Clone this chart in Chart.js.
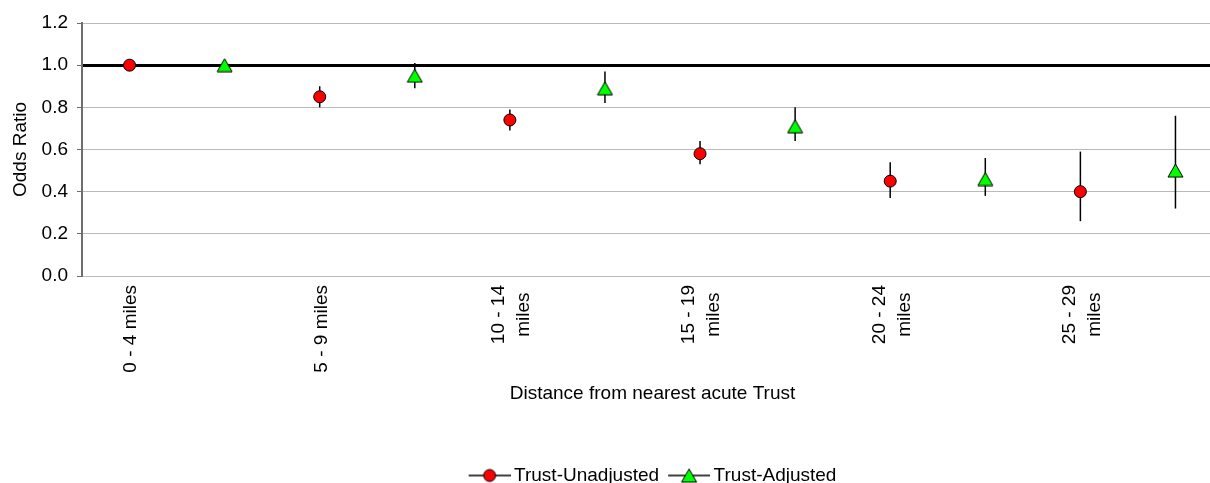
<!DOCTYPE html>
<html>
<head>
<meta charset="utf-8">
<script src="https://cdn.jsdelivr.net/npm/chart.js@4.4.1/dist/chart.umd.min.js"></script>
<style>
  html, body { margin: 0; padding: 0; background: #fff; overflow: hidden; }
  #wrap { width: 1232px; height: 495px; }
</style>
</head>
<body>
<div id="wrap"><canvas id="chart" width="1232" height="495"></canvas></div>
<script>
// Distance bands from the nearest acute Trust (multi-line tick labels)
const distanceBands = [
  ['0 - 4 miles'],
  ['5 - 9 miles'],
  ['10 - 14', 'miles'],
  ['15 - 19', 'miles'],
  ['20 - 24', 'miles'],
  ['25 - 29', 'miles']
];

// Odds ratios and 95% confidence limits, reference band = 0 - 4 miles
const unadjustedOR    = [1.00, 0.85, 0.74, 0.58, 0.45, 0.40];
const unadjustedLower = [null, 0.80, 0.69, 0.53, 0.37, 0.26];
const unadjustedUpper = [null, 0.90, 0.79, 0.64, 0.54, 0.59];

const adjustedOR      = [1.00, 0.95, 0.89, 0.71, 0.46, 0.50];
const adjustedLower   = [null, 0.89, 0.82, 0.64, 0.38, 0.32];
const adjustedUpper   = [null, 1.01, 0.97, 0.80, 0.56, 0.76];

const yTickValues = [0.0, 0.2, 0.4, 0.6, 0.8, 1.0, 1.2];
const referenceOR = 1.0;

const FONT = '"Liberation Sans", Arial, Helvetica, sans-serif';
const FONT_SIZE = 19;

// Each band gets two slots: unadjusted estimate, then adjusted estimate
const slotLabels = [];
const unadjustedSlots = [], adjustedSlots = [];
const unadjustedCI = [], adjustedCI = [];
distanceBands.forEach((band, i) => {
  slotLabels.push(band, '');
  unadjustedSlots.push(unadjustedOR[i], null);
  adjustedSlots.push(null, adjustedOR[i]);
  unadjustedCI.push([unadjustedLower[i], unadjustedUpper[i]], null);
  adjustedCI.push(null, [adjustedLower[i], adjustedUpper[i]]);
});

// Marker painters
function paintCircle(g, x, y) {
  g.beginPath();
  g.arc(x, y, 6, 0, Math.PI * 2);
  g.fillStyle = '#ff0000';
  g.fill();
  g.lineWidth = 1;
  g.strokeStyle = '#000';
  g.stroke();
}
function paintTriangle(g, x, y) {
  g.beginPath();
  g.moveTo(x, y - 6.5);
  g.lineTo(x + 7.5, y + 6.5);
  g.lineTo(x - 7.5, y + 6.5);
  g.closePath();
  g.fillStyle = '#00ff00';
  g.fill();
  g.lineWidth = 1;
  g.strokeStyle = '#000';
  g.stroke();
}

// Triangle marker centred on its bounding box
const triangleMarker = (() => {
  const c = document.createElement('canvas');
  c.width = 17; c.height = 15;
  paintTriangle(c.getContext('2d'), 8.5, 7.5);
  return c;
})();

// Legend symbol: short line with the marker in the middle
function legendSymbol(painter) {
  const c = document.createElement('canvas');
  c.width = 48; c.height = 18;
  const g = c.getContext('2d');
  g.strokeStyle = '#000';
  g.lineWidth = 1.5;
  g.beginPath();
  g.moveTo(6, 9);
  g.lineTo(48, 9);
  g.stroke();
  painter(g, 27, 9);
  return c;
}

// Confidence interval whiskers, drawn underneath the markers
const ciBars = {
  id: 'ciBars',
  beforeDatasetsDraw(chart) {
    const yScale = chart.scales.y;
    const ctx = chart.ctx;
    ctx.save();
    ctx.strokeStyle = '#000';
    ctx.lineWidth = 1.5;
    chart.data.datasets.forEach((ds, di) => {
      const meta = chart.getDatasetMeta(di);
      ds.ci.forEach((range, i) => {
        if (!range || range[0] == null || range[1] == null) return;
        const x = meta.data[i].x;
        ctx.beginPath();
        ctx.moveTo(x, yScale.getPixelForValue(range[0]));
        ctx.lineTo(x, yScale.getPixelForValue(range[1]));
        ctx.stroke();
      });
    });
    ctx.restore();
  }
};

// Vertical band labels reading upward, lines centred within each label
const bandTicks = {
  id: 'bandTicks',
  afterDraw(chart) {
    const xScale = chart.scales.x;
    const ctx = chart.ctx;
    const top = chart.chartArea.bottom + 9;
    const lineStep = 25;
    const capHalf = FONT_SIZE * 0.716 / 2;
    ctx.save();
    ctx.font = FONT_SIZE + 'px ' + FONT;
    ctx.fillStyle = '#000';
    ctx.textAlign = 'center';
    ctx.textBaseline = 'alphabetic';
    chart.data.labels.forEach((label, i) => {
      if (!label || !label.length) return;
      const lines = Array.isArray(label) ? label : [label];
      const maxW = Math.max(...lines.map(l => ctx.measureText(l).width));
      const x = xScale.getPixelForValue(i);
      ctx.save();
      ctx.translate(x, top);
      ctx.rotate(-Math.PI / 2);
      lines.forEach((line, k) => {
        ctx.fillText(line, -maxW / 2, (k - (lines.length - 1) / 2) * lineStep + capHalf);
      });
      ctx.restore();
    });
    ctx.restore();
  }
};

Chart.defaults.font.family = FONT;
Chart.defaults.font.size = FONT_SIZE;
Chart.defaults.color = '#000';

new Chart(document.getElementById('chart'), {
  type: 'line',
  data: {
    labels: slotLabels,
    datasets: [
      {
        label: 'Trust-Unadjusted',
        data: unadjustedSlots,
        ci: unadjustedCI,
        showLine: false,
        pointStyle: 'circle',
        pointRadius: 6,
        pointHoverRadius: 6,
        pointBackgroundColor: '#ff0000',
        pointBorderColor: '#000',
        pointBorderWidth: 1,
        legendSymbol: legendSymbol(paintCircle)
      },
      {
        label: 'Trust-Adjusted',
        data: adjustedSlots,
        ci: adjustedCI,
        showLine: false,
        pointStyle: triangleMarker,
        pointRadius: 8,
        pointHoverRadius: 8,
        legendSymbol: legendSymbol(paintTriangle)
      }
    ]
  },
  options: {
    responsive: false,
    animation: false,
    devicePixelRatio: 1,
    layout: { padding: { top: 23, right: 0, bottom: 0, left: 0 } },
    plugins: {
      tooltip: { enabled: false },
      legend: {
        position: 'bottom',
        fullSize: false,
        labels: {
          usePointStyle: true,
          pointStyleWidth: 36,
          padding: 9,
          color: '#000',
          font: { size: FONT_SIZE, family: FONT },
          generateLabels: chart => chart.data.datasets.map((ds, i) => ({
            text: ds.label,
            pointStyle: ds.legendSymbol,
            datasetIndex: i,
            fontColor: '#000',
            hidden: false,
            lineWidth: 0,
            fillStyle: 'transparent',
            strokeStyle: 'transparent'
          }))
        }
      }
    },
    scales: {
      x: {
        type: 'category',
        offset: true,
        grid: { display: false },
        border: { display: false },
        ticks: { display: false },
        title: {
          display: true,
          text: 'Distance from nearest acute Trust',
          color: '#000',
          font: { size: FONT_SIZE, family: FONT },
          padding: { top: 0, bottom: 52 }
        },
        afterFit: s => { s.height = 181; }
      },
      y: {
        min: 0,
        max: 1.2,
        afterBuildTicks: s => { s.ticks = yTickValues.map(v => ({ value: v })); },
        ticks: {
          padding: 9,
          color: '#000',
          font: { size: FONT_SIZE, family: FONT },
          callback: v => Number(v).toFixed(1)
        },
        grid: {
          color: c => (c.tick && Math.abs(c.tick.value - referenceOR) < 1e-9) ? '#000' : '#bababa',
          lineWidth: c => (c.tick && Math.abs(c.tick.value - referenceOR) < 1e-9) ? 3 : 1,
          drawTicks: true,
          tickLength: 5,
          tickColor: '#6e6e6e',
          tickWidth: 1
        },
        border: { display: true, color: '#6e6e6e', width: 2 },
        title: {
          display: true,
          text: 'Odds Ratio',
          color: '#000',
          font: { size: FONT_SIZE, family: FONT },
          padding: { top: 9, bottom: 0 }
        },
        afterFit: s => { s.width = 82; }
      }
    }
  },
  plugins: [ciBars, bandTicks]
});
</script>
</body>
</html>
